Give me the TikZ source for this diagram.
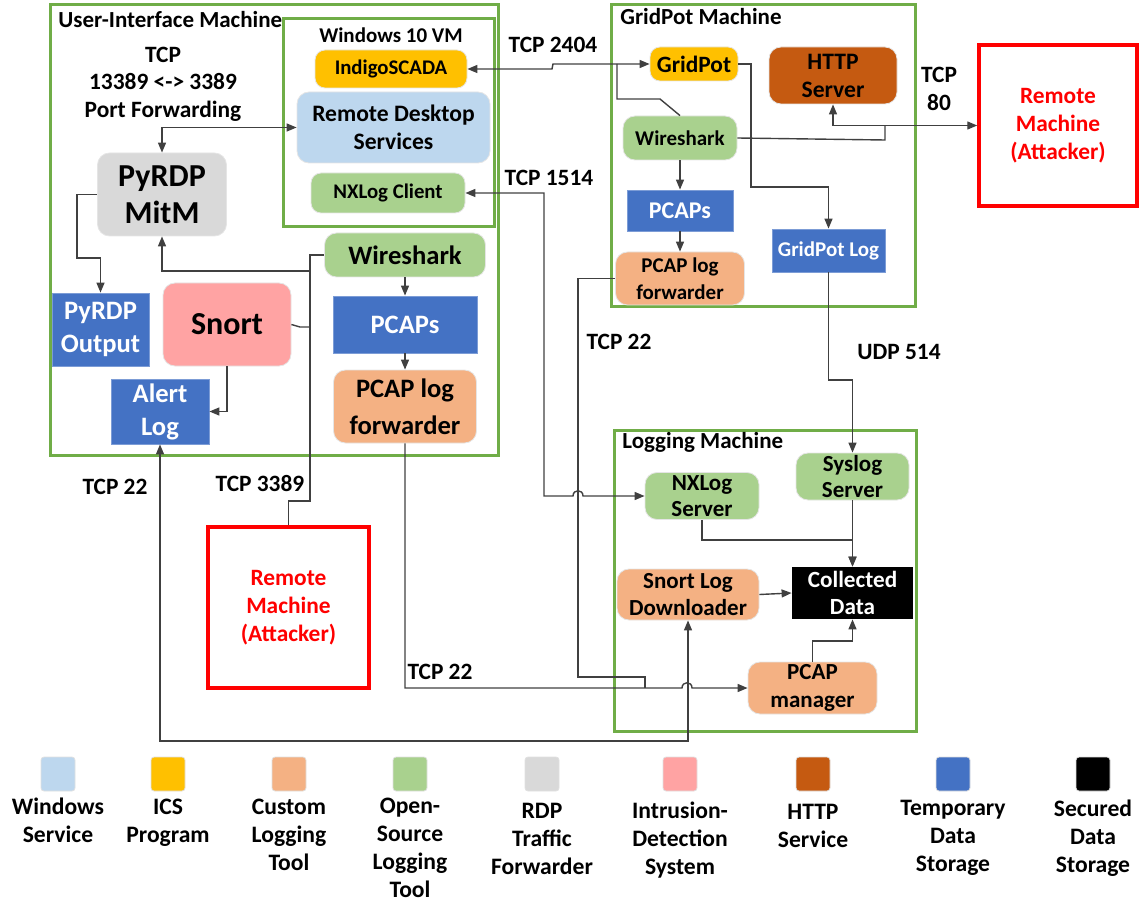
\documentclass[tikz,border=0pt]{standalone}
\usepackage{fontspec}
\setmainfont{Carlito}
\usetikzlibrary{arrows.meta}

\definecolor{frameg}{HTML}{70AD47}
\definecolor{toolg}{HTML}{A9D18E}
\definecolor{storeb}{HTML}{4472C4}
\definecolor{winb}{HTML}{BDD7EE}
\definecolor{icsy}{HTML}{FFC000}
\definecolor{custo}{HTML}{F4B183}
\definecolor{rdpg}{HTML}{D9D9D9}
\definecolor{idsp}{HTML}{FFA3A3}
\definecolor{httpb}{HTML}{C55A11}
\definecolor{linec}{HTML}{404040}

\newcommand{\setfs}[2]{\fontsize{#1}{#2}\selectfont\bfseries}

\tikzset{
  box/.style={rounded corners=6pt, draw=black!10, line width=0.4pt, align=center, inner sep=0pt},
  store/.style={fill=storeb, draw=storeb!70!white, line width=0.4pt, text=white, align=center, inner sep=0pt},
  frame/.style={draw=frameg, line width=1.5pt},
  attacker/.style={draw=red, line width=1.75pt, text=red, align=center, inner sep=0pt, font=\setfs{11.7}{14}},
  link/.style={draw=linec, line width=0.7pt},
  tip/.style={-{Triangle[length=5pt,width=4pt]}},
  tips/.style={{Triangle[length=5pt,width=4pt]}-{Triangle[length=5pt,width=4pt]}},
  port/.style={font=\setfs{11.7}{13.8}, align=center, inner sep=0pt},
  title/.style={font=\setfs{11.5}{14}, inner sep=0pt},
  legsq/.style={minimum size=17pt, inner sep=0pt, rounded corners=1.5pt, draw=black!12, line width=0.4pt},
  legtxt/.style={font=\setfs{11.8}{14}, align=center, inner sep=0pt},
}

\begin{document}
\begin{tikzpicture}[x=0.5pt,y=-0.5pt]
\useasboundingbox (0,0) rectangle (1139,903);

% machines
\draw[frame] (50,5) rectangle (498,455);
\draw[frame] (283,19) rectangle (494,227);
\draw[frame] (611,5) rectangle (915,307);
\draw[frame] (614,430) rectangle (916,731);
\node[title, anchor=west] (uititle) at (58,20) {User-Interface Machine};
\node[title, font=\setfs{10.5}{12}] (vmtitle) at (391,35) {Windows 10 VM};
\node[title, anchor=west] (gptitle) at (620,17) {GridPot Machine};
\node[title, anchor=west] (logtitle) at (622,442) {Logging Machine};

% user-interface machine
\node[port] (fwdnote) at (163,84) {TCP\\13389 <-> 3389\\Port Forwarding};
\node[box, fill=rdpg, minimum width=64.5pt, minimum height=41.5pt, font=\setfs{16}{18.5}] (pyrdp) at (162,194.5) {PyRDP\\MitM};
\node[store, minimum width=48.5pt, minimum height=36.5pt, font=\setfs{13.3}{16.5}] (pyout) at (100.5,329.5) {PyRDP\\Output};
\node[box, fill=idsp, minimum width=64pt, minimum height=41.5pt, font=\setfs{16}{18.5}] (snort) at (227,324.5) {Snort};
\node[store, minimum width=49pt, minimum height=32.5pt, font=\setfs{13.3}{16.5}] (alert) at (160,411.5) {Alert\\Log};
\node[box, fill=toolg, minimum width=80.5pt, minimum height=22pt, font=\setfs{13.3}{16}] (wsui) at (405,255) {Wireshark};
\node[store, minimum width=72pt, minimum height=28.5pt, font=\setfs{13.3}{16}] (pcapui) at (405,324.5) {PCAPs};
\node[box, fill=custo, minimum width=71.5pt, minimum height=36.5pt, font=\setfs{13.3}{18.5}] (fwdui) at (405,406.5) {PCAP log\\forwarder};

% windows 10 vm
\node[box, fill=icsy, minimum width=76pt, minimum height=19pt, font=\setfs{10.4}{12}, rounded corners=5pt] (indigo) at (391,69) {IndigoSCADA};
\node[box, fill=winb, minimum width=96.5pt, minimum height=35.5pt, font=\setfs{11.8}{14}] (rds) at (393.5,127.5) {Remote Desktop\\Services};
\node[box, fill=toolg, minimum width=77pt, minimum height=20pt, font=\setfs{10.4}{12}, rounded corners=5pt] (nxc) at (388,193) {NXLog Client};

% gridpot machine
\node[box, fill=icsy, minimum width=44pt, minimum height=17pt, font=\setfs{11.7}{14}, rounded corners=5pt] (gridpot) at (694,64) {GridPot};
\node[box, fill=httpb, minimum width=64pt, minimum height=28.5pt, font=\setfs{11.8}{14}] (http) at (833,75.5) {HTTP\\Server};
\node[box, fill=toolg, minimum width=57pt, minimum height=22pt, font=\setfs{10.5}{12.5}] (wsgp) at (680,138) {Wireshark};
\node[store, minimum width=53pt, minimum height=20.5pt, font=\setfs{12}{14}] (pcapgp) at (680,210.5) {PCAPs};
\node[box, fill=custo, minimum width=64.5pt, minimum height=26.5pt, font=\setfs{10.5}{13.5}] (fwdgp) at (680,278.5) {PCAP log\\forwarder};
\node[store, minimum width=56.5pt, minimum height=21.5pt, font=\setfs{10.5}{12.5}] (gplog) at (828.5,250.5) {GridPot Log};
\node[port] (tcp80) at (939,89) {TCP\\80};

% remote machines
\node[attacker, minimum width=79pt, minimum height=80.5pt] (rmr) at (1058,125.5) {Remote\\Machine\\(Attacker)};
\node[attacker, minimum width=80.5pt, minimum height=80.5pt] (rmb) at (288.5,607.5) {Remote\\Machine\\(Attacker)};

% logging machine
\node[box, fill=toolg, minimum width=57pt, minimum height=23.5pt, font=\setfs{11.5}{13}] (nxs) at (702,496) {NXLog\\Server};
\node[box, fill=toolg, minimum width=56.5pt, minimum height=23.5pt, font=\setfs{11.5}{13}] (syslog) at (852.5,476.5) {Syslog\\Server};
\node[fill=black, text=white, minimum width=60.5pt, minimum height=26pt, align=center, inner sep=0pt, font=\setfs{11.6}{13.5}] (collected) at (852.5,593) {Collected\\Data};
\node[box, fill=custo, minimum width=71pt, minimum height=25.5pt, font=\setfs{11.5}{13.5}] (snortdl) at (688,594.5) {Snort Log\\Downloader};
\node[box, fill=custo, minimum width=64.5pt, minimum height=26pt, font=\setfs{11.5}{14}] (pcapman) at (812.5,688) {PCAP\\manager};

% port labels
\node[port] (p2404) at (553,45) {TCP 2404};
\node[port] (p1514) at (549,178) {TCP 1514};
\node[port] (p22gp) at (619,342) {TCP 22};
\node[port] (p514) at (899,352) {UDP 514};
\node[port] (p22al) at (115,487) {TCP 22};
\node[port] (p3389) at (260,484) {TCP 3389};
\node[port] (p22fw) at (440,672) {TCP 22};

% links in the user-interface machine
\coordinate (trunk) at (310,501);
\coordinate (tpy) at (310,271);
\coordinate (tsn) at (310,327);
\draw[link, tips] (pyrdp.north) |- (rds.west);
\draw[link, tip] (pyrdp.west) -| (77,258) -| (pyout.north);
\draw[link] (rmb.north) |- (trunk) |- (wsui.west);
\draw[link, tip] (tpy) -| (pyrdp.south);
\draw[link] (snort.east) -- (300,327) -- (tsn);
\draw[link, tip] (snort.south) |- (alert.east);
\draw[link, tip] (wsui.south) -- (pcapui.north);
\draw[link, tip] (pcapui.south) -- (fwdui.north);

% links between machines
\draw[link, tips] (alert.south) |- (688,741) -- (snortdl.south);
\draw[link, tip] (fwdui.south) |- (682,688) .. controls (682,681) and (692,681) .. (692,688) -- (pcapman.west);
\draw[link] (fwdgp.west) -| (578,677) -| (645,688);
\draw[link, tips] (nxc.east) -| (544,496) -- (573,496) .. controls (573,489) and (583,489) .. (583,496) -- (nxs.west);
\draw[link, tips] (indigo.east) -- (552,69) -- (553,64) -- (gridpot.west);
\draw[link] (617,64) -- (617,99) -- (660,99) -- (wsgp.north);
\draw[link, tips] (http.south) |- (rmr.west);
\draw[link] (wsgp.east) -- (885,140) -- (885,125.5);

% links in the gridpot machine
\draw[link, tip] (gridpot.east) -| (751,187) -| (gplog.north);
\draw[link, tip] (wsgp.south) -- (pcapgp.north);
\draw[link, tip] (pcapgp.south) -- (fwdgp.north);
\draw[link, tip] (gplog.south) |- (852.5,380) -- (syslog.north);

% links in the logging machine
\draw[link, tip] (syslog.south) -- (collected.north);
\draw[link, tip] (nxs.south) |- (852.5,540) -- (collected.north);
\draw[link, tip] (snortdl.east) -- (collected.west);
\draw[link, tip] (pcapman.north) |- (852.5,641) -- (collected.south);

% legend
\foreach \lx/\lc/\ly/\lt in {
  58/winb/820/{Windows\\Service},
  168/icsy/823/{ICS\\Program},
  289/custo/835/{Custom\\Logging\\Tool},
  410/toolg/848/{Open-\\Source\\Logging\\Tool},
  542/rdpg/839/{RDP\\Traffic\\Forwarder},
  680/idsp/840/{Intrusion-\\Detection\\System},
  813/httpb/826/{HTTP\\Service},
  953/storeb/838/{Temporary\\Data\\Storage},
  1093/black/838/{Secured\\Data\\Storage}}
{
  \node[legsq, fill=\lc] (sq-\lc) at (\lx,774) {};
  \node[legtxt] (key-\lc) at (\lx,\ly) {\lt};
}

\end{tikzpicture}
\end{document}
